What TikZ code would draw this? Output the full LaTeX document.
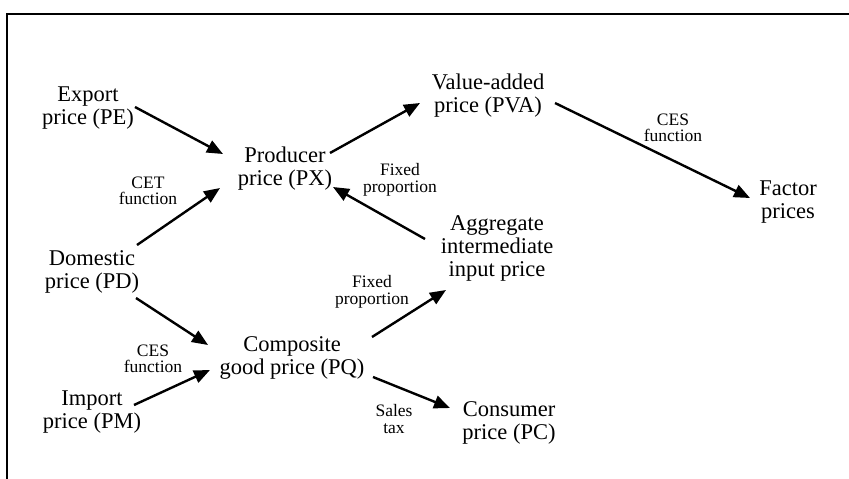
\documentclass[tikz,border=0pt]{standalone}
\usepackage{fontspec}
\setmainfont{Liberation Serif}
\usetikzlibrary{arrows.meta}
\begin{document}
\begin{tikzpicture}[x=1pt,y=-1pt,
  big/.style={inner sep=0pt,align=center,font=\fontsize{22.5}{23}\selectfont},
  small/.style={inner sep=0pt,align=center,font=\fontsize{17.5}{16.5}\selectfont},
  arr/.style={line width=2.4pt,-{Triangle[length=16pt,width=13pt]}},
  frame/.style={line width=1.6pt}]
\useasboundingbox (0,0) rectangle (849,479);
\draw[frame] (849,14) -- (7,14) -- (7,479);
% main nodes
\node[big] (pe)  at (88,108)  {Export\\price (PE)};
\node[big] (px)  at (285,169) {Producer\\price (PX)};
\node[big] (pva) at (488,96)  {Value-added\\price (PVA)};
\node[big] (fac) at (788,202) {Factor\\prices};
\node[big] (agg) at (497,248) {Aggregate\\intermediate\\input price};
\node[big] (pd)  at (92,272)  {Domestic\\price (PD)};
\node[big] (pq)  at (292,358) {Composite\\good price (PQ)};
\node[big] (pm)  at (92,412)  {Import\\price (PM)};
\node[big] (pc)  at (509,423) {Consumer\\price (PC)};
% labels
\node[small] (cet)   at (148,191) {CET\\function};
\node[small] (ces1)  at (153,359) {CES\\function};
\node[small] (fp1)   at (400,180) {Fixed\\proportion};
\node[small] (fp2)   at (372,292) {Fixed\\proportion};
\node[small] (ces2)  at (673,128) {CES\\function};
\node[small] (sales) at (394,419) {Sales\\tax};
% arrows
\draw[arr] ([shift={(47,-1)}]pe.center) -- ([shift={(-62,-15)}]px.center);
\draw[arr] ([shift={(45,-27)}]pd.center) -- ([shift={(-65,19)}]px.center);
\draw[arr] ([shift={(44,26)}]pd.center) -- ([shift={(-84,-13)}]pq.center);
\draw[arr] ([shift={(42,-7)}]pm.center) -- ([shift={(-82,12)}]pq.center);
\draw[arr] ([shift={(80,-21)}]pq.center) -- ([shift={(-51,42)}]agg.center);
\draw[arr] ([shift={(81,19)}]pq.center) -- ([shift={(-59,-15)}]pc.center);
\draw[arr] ([shift={(45,-16)}]px.center) -- ([shift={(-68,7)}]pva.center);
\draw[arr] ([shift={(-72,-9)}]agg.center) -- ([shift={(48,18)}]px.center);
\draw[arr] ([shift={(67,7)}]pva.center) -- ([shift={(-38,-4)}]fac.center);
\end{tikzpicture}
\end{document}
